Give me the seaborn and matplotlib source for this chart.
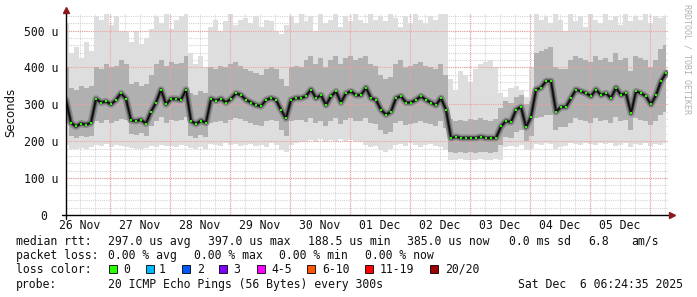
import numpy as np
import pandas as pd
import matplotlib
matplotlib.use("Agg")
import matplotlib.pyplot as plt
from matplotlib.lines import Line2D
from matplotlib.patches import Rectangle
from matplotlib.transforms import ScaledTranslation
import seaborn as sns

# ---------------- data (microseconds, one value per 2 hours from 26 Nov 06:24) -------------
hours = list(range(0, 241, 2))

median_rtt = [
    312, 250, 240, 248, 245, 250, 315, 305, 308, 300, 312, 330,
    315, 257, 255, 258, 248, 280, 305, 340, 300, 315, 315, 312,
    340, 255, 247, 256, 250, 315, 310, 315, 305, 315, 330, 325,
    312, 305, 298, 295, 312, 317, 312, 285, 262, 312, 317, 317,
    322, 340, 317, 325, 298, 322, 335, 305, 330, 335, 325, 325,
    345, 317, 312, 285, 272, 280, 317, 322, 305, 305, 312, 322,
    312, 305, 298, 317, 285, 209, 212, 209, 209, 209, 209, 212,
    209, 209, 209, 240, 255, 252, 285, 293, 238, 266, 340, 345,
    363, 363, 280, 293, 293, 317, 340, 335, 330, 322, 340, 325,
    330, 317, 345, 325, 330, 276, 335, 330, 322, 300, 325, 363, 385,
]
smoke_max = [
    520, 440, 455, 425, 470, 445, 540, 530, 545, 515, 540, 500,
    495, 470, 500, 465, 480, 505, 540, 520, 545, 505, 530, 540,
    545, 440, 410, 430, 400, 510, 530, 500, 525, 545, 515, 530,
    535, 520, 540, 510, 530, 525, 500, 490, 515, 540, 520, 545,
    525, 540, 500, 545, 520, 530, 545, 510, 540, 525, 545, 530,
    520, 545, 530, 540, 525, 545, 535, 510, 540, 520, 545, 530,
    520, 540, 530, 545, 545, 370, 340, 390, 380, 360, 395, 410,
    415, 420, 400, 330, 320, 345, 350, 340, 320, 400, 545, 530,
    540, 520, 545, 530, 500, 545, 525, 540, 510, 545, 530, 520,
    545, 530, 540, 515, 545, 525, 540, 530, 545, 520, 540, 535, 540,
]
smoke_min = [
    190, 180, 178, 182, 180, 185, 190, 188, 192, 185, 190, 188,
    185, 182, 180, 178, 183, 188, 185, 190, 186, 188, 185, 190,
    188, 182, 178, 185, 180, 192, 190, 188, 195, 190, 192, 188,
    190, 192, 188, 190, 185, 195, 190, 176, 172, 190, 195, 198,
    200, 203, 198, 205, 200, 203, 198, 205, 200, 203, 200, 198,
    190, 185, 188, 176, 172, 178, 190, 192, 188, 195, 190, 185,
    190, 192, 188, 185, 175, 150, 148, 152, 150, 148, 150, 152,
    150, 148, 152, 150, 185, 188, 185, 190, 176, 178, 192, 190,
    195, 192, 180, 185, 188, 195, 192, 190, 195, 193, 190, 195,
    192, 195, 188, 190, 195, 185, 192, 190, 195, 188, 192, 190, 195,
]
smoke_q3 = [
    400, 345, 340, 350, 345, 350, 400, 395, 410, 400, 405, 420,
    410, 355, 360, 350, 355, 380, 410, 420, 405, 415, 410, 412,
    430, 330, 325, 335, 330, 400, 395, 405, 400, 410, 415, 405,
    395, 390, 385, 380, 395, 400, 395, 370, 350, 400, 405, 400,
    420, 430, 410, 425, 400, 420, 430, 410, 425, 430, 420, 425,
    430, 410, 405, 380, 370, 375, 410, 420, 400, 405, 410, 415,
    405, 400, 395, 410, 380, 260, 255, 258, 255, 260, 258, 262,
    258, 255, 260, 290, 310, 305, 320, 325, 300, 310, 440, 445,
    450, 455, 400, 395, 395, 420, 430, 425, 420, 415, 430, 420,
    425, 415, 440, 420, 425, 390, 430, 425, 420, 400, 420, 450, 460,
]
smoke_q1 = [
    255, 215, 210, 215, 212, 215, 255, 250, 258, 250, 255, 260,
    258, 220, 218, 222, 215, 240, 255, 265, 250, 258, 255, 258,
    265, 215, 210, 218, 212, 250, 252, 255, 250, 258, 262, 260,
    255, 250, 245, 240, 255, 258, 255, 230, 215, 255, 258, 258,
    252, 262, 250, 255, 240, 255, 262, 248, 258, 262, 255, 255,
    262, 250, 248, 230, 220, 225, 250, 255, 245, 248, 250, 255,
    250, 248, 242, 255, 235, 170, 168, 170, 168, 170, 168, 172,
    170, 168, 170, 190, 212, 210, 225, 230, 200, 215, 262, 265,
    270, 270, 230, 238, 238, 250, 262, 258, 255, 250, 262, 255,
    258, 250, 265, 255, 258, 230, 262, 258, 255, 245, 255, 270, 280,
]

day_labels = ["26 Nov", "27 Nov", "28 Nov", "29 Nov", "30 Nov",
              "01 Dec", "02 Dec", "03 Dec", "04 Dec", "05 Dec"]
ytick_values = [0, 100, 200, 300, 400, 500]
ytick_labels = ["0", "100 u", "200 u", "300 u", "400 u", "500 u"]

loss_labels = ["0", "1", "2", "3", "4-5", "6-10", "11-19", "20/20"]
loss_colors = ["#26ff00", "#00b8ff", "#0059ff", "#7e00ff",
               "#ff00ff", "#ff5500", "#ff0000", "#a10000"]

stats_rtt = ["297.0 us avg", "397.0 us max", "188.5 us min",
             "385.0 us now", "0.0 ms sd", "6.8", "am/s"]
stats_loss = ["0.00 % avg", "0.00 % max", "0.00 % min", "0.00 % now"]
probe_text = "20 ICMP Echo Pings (56 Bytes) every 300s"
stamp_text = "Sat Dec  6 06:24:35 2025"

# ---------------- figure -------------------------------------------------------------------
sns.set_style("white")
plt.rcParams["font.family"] = ["DejaVu Sans Mono", "DejaVu Sans"]

W, H = 697, 297
fig = plt.figure(figsize=(W / 100, H / 100), dpi=100)
fig.patch.set_facecolor("white")
ax = fig.add_axes([66 / W, (H - 215) / H, 602 / W, 201 / H])

df = pd.DataFrame({"h": hours, "median": median_rtt, "lo": smoke_min,
                   "hi": smoke_max, "q1": smoke_q1, "q3": smoke_q3})

XMAX = 240.8
ax.set_xlim(0, XMAX)
ax.set_ylim(0, 545)

# grid
first_mid = 17.59
for k in np.arange(first_mid - 12, XMAX, 6):
    ax.axvline(k, color="#d4d4d4", lw=0.8, ls=(0, (1, 1)), zorder=0)
for v in range(20, 545, 20):
    ax.axhline(v, color="#d4d4d4", lw=0.8, ls=(0, (1, 1)), zorder=0)
for k in np.arange(first_mid, XMAX, 24):
    ax.axvline(k, color="#f0a0a0", lw=0.8, ls=(0, (1, 1)), zorder=2.5)
for v in ytick_values[1:]:
    ax.axhline(v, color="#f0a0a0", lw=0.8, ls=(0, (1, 1)), zorder=2.5)

# smoke
ax.fill_between(df["h"], df["lo"], df["hi"], step="mid", color="#dedede",
                lw=0, zorder=1)
ax.fill_between(df["h"], df["q1"], df["q3"], step="mid", color="#b0b0b0",
                lw=0, zorder=2)

# median: dark core, black line, green loss-colour ticks
sns.lineplot(data=df, x="h", y="median", ax=ax, color="#8a8a8a", lw=5,
             zorder=3, legend=False)
sns.lineplot(data=df, x="h", y="median", ax=ax, color="#4a4a4a", lw=2.6,
             zorder=3.5, legend=False)
sns.lineplot(data=df, x="h", y="median", ax=ax, color="#0a0a0a", lw=1.1,
             zorder=4, legend=False)
sns.scatterplot(data=df, x="h", y="median", ax=ax, color=loss_colors[0],
                marker="s", s=3, linewidth=0, zorder=5, legend=False)

for s in ax.spines.values():
    s.set_visible(False)
ax.set_xlabel("")
ax.set_ylabel("")

# ticks
ax.set_xticks([first_mid - 12 + 24 * i for i in range(len(day_labels))])
ax.set_xticklabels(day_labels)
ax.set_xticks(np.arange(first_mid - 12, XMAX, 6), minor=True)
ax.tick_params(axis="x", which="major", length=0, pad=3.2, labelsize=8.3,
               labelcolor="#111111")
ax.tick_params(axis="x", which="minor", length=2, direction="inout",
               color="#999999", width=0.6)
ax.set_yticks(ytick_values)
ax.set_yticklabels(ytick_labels)
ax.set_yticks(range(20, 545, 20), minor=True)
ax.tick_params(axis="y", which="major", length=4, direction="inout",
               color="#222222", width=0.8, pad=3.8, labelsize=8.3,
               labelcolor="#111111")
ax.tick_params(axis="y", which="minor", length=2, direction="inout",
               color="#999999", width=0.6)
lbl0 = ax.get_yticklabels()[0]
lbl0.set_transform(lbl0.get_transform() +
                   ScaledTranslation(-11 / 100, 0, fig.dpi_scale_trans))


def fp(x, y):
    return (x / W, 1 - y / H)


# axis lines with arrows
fig.add_artist(Line2D([62 / W, 670 / W], [1 - 215 / H] * 2, color="black",
                      lw=1.0, transform=fig.transFigure))
fig.add_artist(Line2D([66 / W] * 2, [1 - 219 / H, 1 - 12 / H], color="black",
                      lw=1.0, transform=fig.transFigure))
fig.add_artist(Line2D([672 / W], [1 - 215 / H], marker=">", ms=4.5,
                      color="#8b1a1a", lw=0, transform=fig.transFigure))
fig.add_artist(Line2D([66 / W], [1 - 10 / H], marker="^", ms=4.5,
                      color="#8b1a1a", lw=0, transform=fig.transFigure))

# labels
fig.text(*fp(11, 112), "Seconds", rotation=90, ha="center", va="center",
         fontsize=8.5, family="DejaVu Sans", color="#111111")
fig.text(*fp(687, 4), "RRDTOOL / TOBI OETIKER", rotation=270, ha="center",
         va="top", fontsize=6, color="#b0b0b0")

FS = 8.3
TC = "#111111"
row = [241.4, 255.6, 269.3, 284.4]
fig.text(*fp(16, row[0]), "median rtt:", fontsize=FS, va="center", color=TC)
for xp, t in zip([108, 208, 308, 407.5, 508.5, 588.5, 631.5], stats_rtt):
    fig.text(*fp(xp, row[0]), t, fontsize=FS, va="center", color=TC)
fig.text(*fp(16, row[1]), "packet loss:", fontsize=FS, va="center", color=TC)
for xp, t in zip([108, 194, 279, 365], stats_loss):
    fig.text(*fp(xp, row[1]), t, fontsize=FS, va="center", color=TC)
fig.text(*fp(16, row[2]), "loss color:", fontsize=FS, va="center", color=TC)
box_x = [109, 146, 182, 219, 257, 307, 365, 430]
lab_x = [123, 159, 197, 233, 271, 322, 380, 445.5]
for bx, lx, c, t in zip(box_x, lab_x, loss_colors, loss_labels):
    fig.add_artist(Rectangle(fp(bx, 272.5), 7.5 / W, 7.5 / H, facecolor=c,
                             edgecolor="black", lw=0.6,
                             transform=fig.transFigure))
    fig.text(*fp(lx, row[2]), t, fontsize=FS, va="center", color=TC)
fig.text(*fp(16, row[3]), "probe:", fontsize=FS, va="center", color=TC)
fig.text(*fp(108, row[3]), probe_text, fontsize=FS, va="center", color=TC)
fig.text(*fp(683, row[3]), stamp_text, fontsize=FS, va="center", ha="right",
         color=TC)

fig.savefig("out.png", dpi=100, facecolor="white")
